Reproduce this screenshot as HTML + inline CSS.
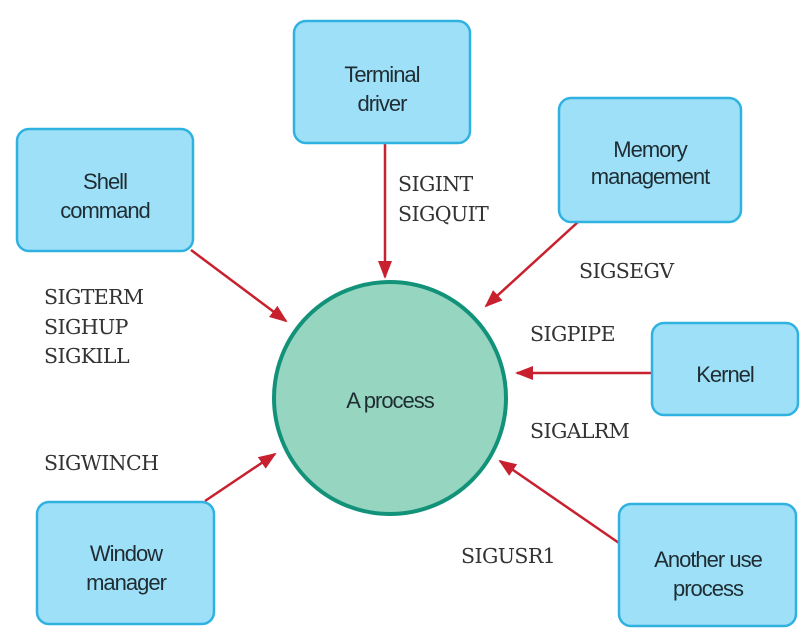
<!DOCTYPE html>
<html><head><meta charset="utf-8"><style>
html,body{margin:0;padding:0;background:#fff;}
svg{display:block;}
.b{fill:#9ee0f8;stroke:#2fb2e0;stroke-width:2.5;}
.t{font-family:"Liberation Sans",sans-serif;font-size:22px;fill:#1f2d33;text-anchor:middle;letter-spacing:-1px;}
.s{font-family:"DejaVu Serif","Liberation Serif",serif;font-size:20.5px;fill:#333;letter-spacing:-0.6px;}
.a{stroke:#c8202f;stroke-width:2.5;fill:none;marker-end:url(#m2);}
</style></head><body>
<svg width="812" height="644" viewBox="0 0 812 644" xmlns="http://www.w3.org/2000/svg">
<defs>
<marker id="m2" markerWidth="18" markerHeight="14" refX="16" refY="7" orient="auto" markerUnits="userSpaceOnUse"><path d="M0,0 L18,7 L0,14 Z" fill="#c8202f"/></marker></defs>
<circle cx="390" cy="398" r="116" fill="#96d5bf" stroke="#13927a" stroke-width="4"/>
<text class="t" x="390" y="408">A process</text>
<line class="a" x1="191" y1="250" x2="286" y2="321"/>
<line class="a" x1="385" y1="144" x2="385" y2="277"/>
<line class="a" x1="578" y1="222" x2="486" y2="306"/>
<line class="a" x1="652" y1="373" x2="517" y2="373"/>
<line class="a" x1="619" y1="543" x2="500" y2="461"/>
<line class="a" x1="205" y1="501" x2="275" y2="454"/>
<rect class="b" x="17" y="129" width="176" height="122" rx="12"/>
<text class="t" x="105" y="189">Shell</text><text class="t" x="105" y="218">command</text>
<rect class="b" x="294" y="21" width="176" height="122" rx="12"/>
<text class="t" x="382" y="82">Terminal</text><text class="t" x="382" y="111">driver</text>
<rect class="b" x="559" y="98" width="182" height="124" rx="12"/>
<text class="t" x="650" y="157">Memory</text><text class="t" x="650" y="184">management</text>
<rect class="b" x="652" y="323" width="146" height="92" rx="12"/>
<text class="t" x="725" y="382">Kernel</text>
<rect class="b" x="619" y="504" width="177" height="122" rx="12"/>
<text class="t" x="708" y="567">Another use</text><text class="t" x="708" y="596">process</text>
<rect class="b" x="37" y="502" width="177" height="122" rx="12"/>
<text class="t" x="126" y="561">Window</text><text class="t" x="126" y="590">manager</text>
<text class="s" x="398" y="191">SIGINT</text>
<text class="s" x="398" y="221">SIGQUIT</text>
<text class="s" x="44" y="304">SIGTERM</text>
<text class="s" x="44" y="334">SIGHUP</text>
<text class="s" x="44" y="363">SIGKILL</text>
<text class="s" x="579" y="278">SIGSEGV</text>
<text class="s" x="530" y="341">SIGPIPE</text>
<text class="s" x="530" y="438">SIGALRM</text>
<text class="s" x="44" y="470">SIGWINCH</text>
<text class="s" x="461" y="563">SIGUSR1</text>
</svg>
</body></html>
